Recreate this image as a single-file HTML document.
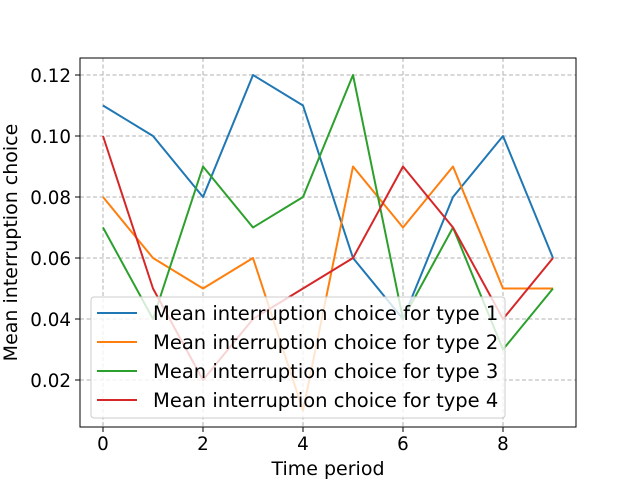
<!DOCTYPE html>
<html><head><meta charset="utf-8"><style>
body{margin:0;background:#fff;font-family:"DejaVu Sans","Liberation Sans",sans-serif;}
</style></head><body>
<svg id="chart" width="640" height="480" xmlns="http://www.w3.org/2000/svg"></svg>
<script>
const categories=[0,1,2,3,4,5,6,7,8,9];
const type1=[0.11,0.10,0.08,0.12,0.11,0.06,0.04,0.08,0.10,0.06];
const type2=[0.08,0.06,0.05,0.06,0.01,0.09,0.07,0.09,0.05,0.05];
const type3=[0.07,0.04,0.09,0.07,0.08,0.12,0.04,0.07,0.03,0.05];
const type4=[0.10,0.05,0.02,0.04,0.05,0.06,0.09,0.07,0.04,0.06];
const xTicks=[0,2,4,6,8];
const yTicks=[0.02,0.04,0.06,0.08,0.10,0.12];
const seriesNames=["Mean interruption choice for type 1","Mean interruption choice for type 2","Mean interruption choice for type 3","Mean interruption choice for type 4"];
const colors=["#1f77b4","#ff7f0e","#2ca02c","#d62728"];
const svg=document.getElementById('chart');
const NS="http://www.w3.org/2000/svg";
const L=80,R=576,T=58,B=427;
const x=v=>103+v*50;
const y=v=>380-(v-0.02)*3050;
function mk(tag,attrs,parent){const e=document.createElementNS(NS,tag);for(const k in attrs)e.setAttribute(k,attrs[k]);(parent||svg).appendChild(e);return e;}
xTicks.forEach(t=>{const g=mk('line',{x1:x(t),x2:x(t),y1:T,y2:B,stroke:'#b0b0b0','stroke-width':1,'stroke-dasharray':'4,2.5'});

});
yTicks.forEach(t=>{const g=mk('line',{x1:L,x2:R,y1:y(t),y2:y(t),stroke:'#b0b0b0','stroke-width':1,'stroke-dasharray':'4,2.5'});

});
[type1,type2,type3,type4].forEach((s,i)=>{
const p=mk('polyline',{points:s.map((v,j)=>x(categories[j])+','+y(v)).join(' '),fill:'none',stroke:colors[i],'stroke-width':2,'stroke-linejoin':'round'});


});
const fr=mk('rect',{x:L,y:T,width:R-L,height:B-T,fill:'none',stroke:'#000','stroke-width':1});


xTicks.forEach(t=>{mk('line',{x1:x(t),x2:x(t),y1:B,y2:B+5,stroke:'#000','stroke-width':1});
const tx=mk('text',{x:x(t),y:B+23,'text-anchor':'middle','font-size':18.3,fill:'#000'});tx.textContent=t;

});
yTicks.forEach(t=>{mk('line',{x1:L-5,x2:L,y1:y(t),y2:y(t),stroke:'#000','stroke-width':1});
const tx=mk('text',{x:L-9,y:y(t)+7,'text-anchor':'end','font-size':18.3,fill:'#000'});tx.textContent=t.toFixed(2);

});
const xt=mk('text',{x:(L+R)/2,y:475,'text-anchor':'middle','font-size':19,fill:'#000'});xt.textContent='Time period';


const yt=mk('text',{x:17,y:(T+B)/2,'text-anchor':'middle','font-size':19,fill:'#000',transform:'rotate(-90 17 '+((T+B)/2)+')'});yt.textContent='Mean interruption choice';


const lg=mk('g',{});


mk('rect',{x:91,y:297,width:414,height:121,rx:3,fill:'#fff','fill-opacity':0.8,stroke:'#ccc'},lg);
seriesNames.forEach((n,i)=>{const yy=313+i*29;
mk('line',{x1:97,x2:137,y1:yy,y2:yy,stroke:colors[i],'stroke-width':2},lg);
const t=mk('text',{x:153,y:yy+7,'font-size':19.5,fill:'#000'},lg);t.textContent=n;

});
</script>
</body></html>
